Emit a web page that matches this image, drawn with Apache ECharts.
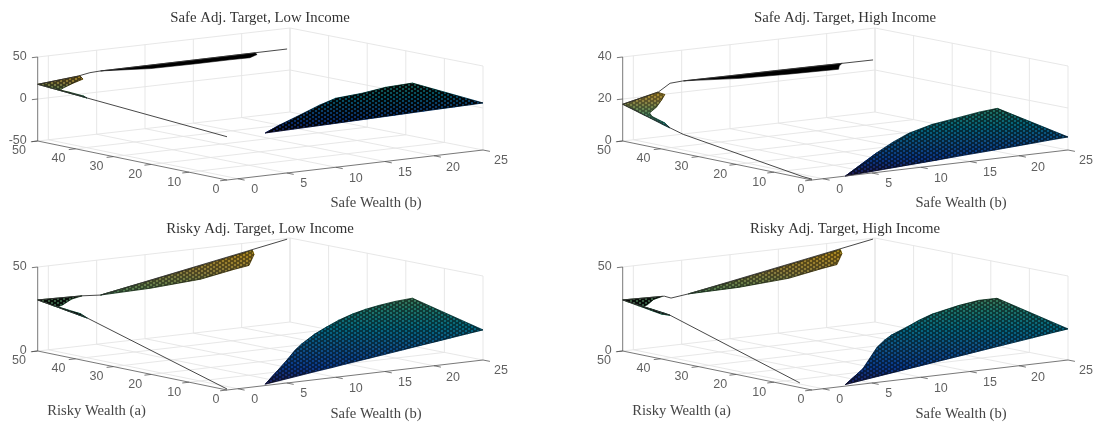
<!DOCTYPE html>
<html><head><meta charset="utf-8">
<style>html,body{margin:0;padding:0;background:#fff}#c{width:1099px;height:424px}</style>
<script src="https://cdn.jsdelivr.net/npm/echarts@6/dist/echarts.min.js"></script>
</head><body><div id="c"></div>
<script>
// ---------- axes ----------
const aTicks=[0,10,20,30,40,50];
const bTicks=[0,5,10,15,20,25];
const bMin=-1.1,bMax=25,aMax=50;
const zTicksA=[-50,0,50], zTicksB=[0,20,40], zTicksC=[0,50];
const titles=['Safe Adj. Target, Low Income','Safe Adj. Target, High Income','Risky Adj. Target, Low Income','Risky Adj. Target, High Income'];
const xName='Safe Wealth (b)', yName='Risky Wealth (a)';

// ---------- panel 1: safe, low income ----------
const p1MainB=[2.8,5.7,9.5,13.2,16,19,22.1,25];
const p1MainATop=[0,3.7,8.1,12.5,15.4,16.2,17.9,18.3];
const p1MainZ0=[.6,1.3,2.2,3.1,3.8,4.6,5.3,6];
const p1MainZTop=[.6,2.7,5.4,8,9.8,10.9,12.3,13.1];
const p1BandB=[5.4,9.5,14,17.5,19.5,21,21.4];
const p1BandALow=[50,47.2,46.8,46.8,46.6,48.5,50];
const p1BandZLow=[24.8,24.8,24.9,25,25,25.1,25.2];
const p1BandZHigh=[24.8,24.9,25,25.1,25.2,25.2,25.2];
const p1TriA=[50,47.8,46.7,45.1,44.3,41.7,38.3,37];
const p1TriBEnd=[3.27,2.72,1.27,-.4,-1,-.9,-.9,-1.1];
const p1TriZ0=[17.5,16.8,16.4,15.9,15.7,14.8,13.8,13.3];
const p1TriZEnd=[21.8,20.7,18.8,16.6,15.8,15,14,13.3];
const p1LowA=[0,50], p1LowZ=[1.5,17.5];
const p1HighB=[-1.1,3.1,4.3,5.4,24.7], p1HighZ=[17.5,21.8,24.2,24.8,25.4];

// ---------- panel 2: safe, high income ----------
const p2MainB=[2.3,8.5,11.6,14.3,17.5,20.7,23,25];
const p2MainATop=[0,7.8,11.4,14.1,16.3,17.3,18,18.3];
const p2MainZ0=[0,1.7,2.5,3.3,4.1,5,5.7,6.2];
const p2MainZTop=[0,4.7,6.9,8.7,10.3,11.6,12.6,13.2];
const p2BandB=[5.2,9.8,14.6,19.4,20.5,21.6];
const p2BandALow=[50,46.9,45.9,45.4,48,50];
const p2BandZLow=[25.3,25.2,25.1,25,25,25];
const p2BandZHigh=[25.3,25.2,25.2,25.1,25,25];
const p2TriA=[50,48.5,47.1,45.5,44.4,43,39.7,37.5];
const p2TriBEnd=[2.52,2.67,1.79,.63,-.52,-.8,-.8,-1.1];
const p2TriZ0=[17.5,16.7,16,15.1,14.5,13.8,12,10.9];
const p2TriZEnd=[21.3,20.7,19.1,16.9,15.1,14.1,12.3,10.9];
const p2LowA=[0,2.4,34,37.5,50], p2LowZ=[.4,.7,9.1,10.9,17.5];
const p2HighB=[-1.1,2.6,3.8,5.1,24.8], p2HighZ=[17.5,21.4,24.9,25.3,24.9];

// ---------- panel 3: risky, low income ----------
const p3MainB=[2.8,5.5,7.9,9.7,11,13.3,15.1,16.9,18.7,20.3,21.7,23.4,25];
const p3MainATop=[0,3.8,7.2,9.9,11.5,14,15.5,16.9,17.9,18.5,18.7,18.7,18.3];
const p3MainZ0=[.8,2.9,4.8,6.1,7.2,8.9,10.3,11.7,13.1,14.3,15.4,16.7,17.9];
const p3MainZTop=[.8,5.1,9,11.8,13.9,17,19.3,21.5,23.5,25,26.2,27.5,28.5];
const p3BandB=[5.4,9.5,13.9,17.3,18.8,20.6,21.1];
const p3BandALow=[50,47.3,45.3,45.3,45.1,48.3,50];
const p3BandZLow=[29,31.6,35,38.5,40,43.8,45.3];
const p3BandZHigh=[29,33.2,37.8,41.3,42.9,44.8,45.3];
const p3TriA=[50,48.7,45.9,44.9,42.6,39.8,36.9];
const p3TriBEnd=[3.5,1.9,-.1,-1,-.85,-.65,-1.1];
const p3TriZ0=[30.4,29.9,28.9,28.6,27.7,26.7,25.7];
const p3TriZEnd=[29.8,29.5,28.8,28.6,27.7,26.6,25.7];
const p3LowA=[0,36.9,50], p3LowZ=[.6,25.7,30.4];
const p3HighB=[-1.1,3.5,5.4,24.7], p3HighZ=[30.4,29.8,29,49.5];

// ---------- panel 4: risky, high income ----------
const p4MainB=[2.3,5.7,9.9,11.4,12.6,14.8,16.6,18.4,21.4,23.5,25];
const p4MainATop=[0,4.2,11.2,13.1,14.4,16,17.4,18.5,19.3,19.3,18.4];
const p4MainZ0=[.9,3.6,6.8,8,8.9,10.6,12,13.4,15.7,17.4,18.5];
const p4MainZTop=[.9,5.9,12.8,15.1,16.7,19.2,21.4,23.4,26.1,27.8,28.4];
const p4BandB=[5.7,9.8,14.2,17.6,19.1,20.9,21.4];
const p4BandALow=[50,47.3,45.3,45.3,45.1,48.3,50];
const p4BandZLow=[29.5,31.9,35.3,38.8,40.3,44.1,45.6];
const p4BandZHigh=[29.5,33.5,38.1,41.6,43.2,45.1,45.6];
const p4TriA=[50,48.7,46,45,42.6,39.8,37.5];
const p4TriBEnd=[3,1.6,-.1,-.9,-.75,-.6,-1.1];
const p4TriZ0=[30.4,29.9,28.9,28.6,27.7,26.7,27.1];
const p4TriZEnd=[29.8,29.5,28.8,28.6,27.7,26.6,27.1];
const p4LowA=[3.2,37.5,50], p4LowZ=[2.7,27.1,30.4];
const p4HighB=[-1.1,3.2,3.9,5.7,24.8], p4HighZ=[30.4,29.8,28.2,29.5,49.5];

// ---------- helpers ----------
const parula=['#352a87','#0f5cdd','#1481d6','#06a4ca','#2eb7a4','#87bf77','#d1bb59','#fec832','#f9fb0e'];
const stops=parula.map((c,i)=>({offset:i/(parula.length-1),color:c}));
const byB=(bs,aA,zA,aB,zB)=>bs.map((b,i)=>[aA[i],b,zA[i],aB[i],b,zB[i]]);
const byA=(as,bEnd,z0,zEnd)=>as.map((a,i)=>[a,bMin,z0[i],a,bEnd[i],zEnd[i]]);
const mainRows=(b,t,z0,zt)=>byB(b,b.map(()=>0),z0,t,zt);
const bandRows=(b,l,zl,zh)=>byB(b,l,zl,b.map(()=>aMax),zh);

const panels=[
 {col:0,row:0,zr:[-50,50],zt:zTicksA,c:[0,25],title:titles[0],
  pieces:[[mainRows(p1MainB,p1MainATop,p1MainZ0,p1MainZTop),.94],[bandRows(p1BandB,p1BandALow,p1BandZLow,p1BandZHigh),1],[byA(p1TriA,p1TriBEnd,p1TriZ0,p1TriZEnd),.68]],
  low:[p1LowA,p1LowZ],high:[p1HighB,p1HighZ],yName:false},
 {col:1,row:0,zr:[0,40],zt:zTicksB,c:[0,25],title:titles[1],
  pieces:[[mainRows(p2MainB,p2MainATop,p2MainZ0,p2MainZTop),.72],[bandRows(p2BandB,p2BandALow,p2BandZLow,p2BandZHigh),1],[byA(p2TriA,p2TriBEnd,p2TriZ0,p2TriZEnd),.55]],
  low:[p2LowA,p2LowZ],high:[p2HighB,p2HighZ],yName:false},
 {col:0,row:1,zr:[0,50],zt:zTicksC,c:[0,50],title:titles[2],
  pieces:[[mainRows(p3MainB,p3MainATop,p3MainZ0,p3MainZTop),.68],[bandRows(p3BandB,p3BandALow,p3BandZLow,p3BandZHigh),.62],[byA(p3TriA,p3TriBEnd,p3TriZ0,p3TriZEnd),.93]],
  low:[p3LowA,p3LowZ],high:[p3HighB,p3HighZ],yName:true},
 {col:1,row:1,zr:[0,50],zt:zTicksC,c:[0,50],title:titles[3],
  pieces:[[mainRows(p4MainB,p4MainATop,p4MainZ0,p4MainZTop),.68],[bandRows(p4BandB,p4BandALow,p4BandZLow,p4BandZHigh),.62],[byA(p4TriA,p4TriBEnd,p4TriZ0,p4TriZEnd),.93]],
  low:[p4LowA,p4LowZ],high:[p4HighB,p4HighZ],yName:true}
];

// view of the MATLAB box: floor corners and wall height, in each panel's axis units
const F=[227,180],R=[483,150],L=[37.7,141],B=[290,112],H=84;
function project(p,a,b,z){
  const u=(b-bMin)/(bMax-bMin),v=a/aMax;
  const w=(i)=>F[i]*(1-u)*(1-v)+R[i]*u*(1-v)+L[i]*(1-u)*v+B[i]*u*v;
  return [w(0),w(1)-(z-p.zr[0])/(p.zr[1]-p.zr[0])*H];
}
function lerpColor(t){
  t=Math.max(0,Math.min(1,t))*(parula.length-1);
  const i=Math.min(parula.length-2,Math.floor(t)),f=t-i;
  const h=(s)=>[1,3,5].map(k=>parseInt(s.substr(k,2),16));
  const A=h(parula[i]),C=h(parula[i+1]);
  return 'rgb('+A.map((v,k)=>Math.round(v+(C[k]-v)*f)).join(',')+')';
}
function triFill(P,Z,c){
  const [p1,p2,p3]=P;
  const det=(p2[0]-p1[0])*(p3[1]-p1[1])-(p3[0]-p1[0])*(p2[1]-p1[1]);
  const mean=(Z[0]+Z[1]+Z[2])/3;
  const solid=lerpColor((mean-c[0])/(c[1]-c[0]));
  if(Math.abs(det)<0.5) return solid;
  const gx=((Z[1]-Z[0])*(p3[1]-p1[1])-(Z[2]-Z[0])*(p2[1]-p1[1]))/det;
  const gy=((Z[2]-Z[0])*(p2[0]-p1[0])-(Z[1]-Z[0])*(p3[0]-p1[0]))/det;
  const g2=gx*gx+gy*gy;
  if(g2<1e-7) return solid;
  const at=(v)=>[p1[0]+gx*(v-Z[0])/g2,p1[1]+gy*(v-Z[0])/g2];
  const s=at(c[0]),e=at(c[1]);
  return new echarts.graphic.LinearGradient(s[0],s[1],e[0],e[1],stops,true);
}
// dark surface-mesh texture with small brighter holes between the edges
const tiles={};
function meshTile(alpha){
  if(tiles[alpha]) return tiles[alpha];
  const t=document.createElement('canvas');t.width=6;t.height=4;
  const x=t.getContext('2d');
  x.fillStyle='rgba(0,0,0,'+alpha+')';x.fillRect(0,0,6,4);
  const hole=alpha*0.55;
  [[0,0],[3,2]].forEach(h=>{
    x.clearRect(h[0],h[1],2,2);
    x.fillStyle='rgba(0,0,0,'+hole+')';x.fillRect(h[0],h[1],2,2);
  });
  return tiles[alpha]=t;
}

// ---------- options ----------
const grids=[],xAxes=[],yAxes=[],series=[],titleItems=[];
const GREY='#e4e4e4',DARK='#555555',TXT='#383838';
const SANS='"Liberation Sans",Arial,sans-serif',SERIF='"Liberation Serif",serif';

function segmentSeries(idx,segs,color,width,p){
  series.push({type:'custom',xAxisIndex:idx,yAxisIndex:idx,silent:true,clip:false,animation:false,
    data:segs,
    renderItem(params,api){
      const s=api.coord(project(p,api.value(0),api.value(1),api.value(2)));
      const e=api.coord(project(p,api.value(3),api.value(4),api.value(5)));
      return {type:'line',shape:{x1:s[0],y1:s[1],x2:e[0],y2:e[1]},style:{stroke:color,lineWidth:width,fill:null}};
    },encode:{x:0,y:1}});
}
panels.forEach((p,idx)=>{
  const ox=585*p.col,oy=210*p.row;
  grids.push({left:ox,top:oy,width:514,height:214});
  xAxes.push({type:'value',gridIndex:idx,min:0,max:514,show:false});
  yAxes.push({type:'value',gridIndex:idx,min:0,max:214,inverse:true,show:false});
  const z0=p.zr[0],z1=p.zr[1];
  // grid lines
  const g=[];
  aTicks.forEach(a=>{ if(a>0) g.push([a,bMin,z0,a,bMax,z0]); g.push([a,bMax,z0,a,bMax,z1]); });
  bTicks.forEach(b=>{ g.push([0,b,z0,aMax,b,z0]); g.push([aMax,b,z0,aMax,b,z1]); });
  p.zt.forEach(z=>{ if(z>z0){ g.push([aMax,bMin,z,aMax,bMax,z]); g.push([aMax,bMax,z,0,bMax,z]); } });
  segmentSeries(idx,g,GREY,0.9,p);
  // surfaces
  p.pieces.forEach(piece=>{
    const rows=piece[0],alpha=piece[1];
    series.push({type:'custom',xAxisIndex:idx,yAxisIndex:idx,silent:true,clip:false,animation:false,data:rows,encode:{x:0,y:1},
      renderItem(params,api){
        const i=params.dataIndexInside;
        if(i===0||alpha>=1) return null;
        const v=(d,k)=>api.value(d,k);
        const pt=(k,o)=>api.coord(project(p,v(o,k),v(o+1,k),v(o+2,k)));
        const q=[pt(i-1,0),pt(i-1,3),pt(i,3),pt(i,0)];
        const z=[v(2,i-1),v(5,i-1),v(5,i),v(2,i)];
        const tri=(a,b,c)=>{
          const fill=triFill([q[a],q[b],q[c]],[z[a],z[b],z[c]],p.c);
          return {type:'polygon',shape:{points:[q[a],q[b],q[c]]},style:{fill:fill,stroke:fill,lineWidth:0.6}};
        };
        return {type:'group',children:[tri(0,1,2),tri(0,2,3)]};
      }});
    series.push({type:'custom',xAxisIndex:idx,yAxisIndex:idx,silent:true,clip:false,animation:false,data:rows,encode:{x:0,y:1},
      renderItem(params,api){
        if(params.dataIndexInside!==0) return null;
        const n=params.dataInsideLength,pts=[];
        for(let k=0;k<n;k++) pts.push(api.coord(project(p,api.value(0,k),api.value(1,k),api.value(2,k))));
        for(let k=n-1;k>=0;k--) pts.push(api.coord(project(p,api.value(3,k),api.value(4,k),api.value(5,k))));
        return {type:'polygon',shape:{points:pts},style:{fill:alpha>=1?'#000':{image:meshTile(alpha),repeat:'repeat'},stroke:'rgba(0,0,0,.8)',lineWidth:0.7}};
      }});
  });
  // edge lines of the surface
  const lineStyle={color:'#333333',width:0.9};
  series.push({type:'line',xAxisIndex:idx,yAxisIndex:idx,silent:true,animation:false,showSymbol:false,symbol:'none',lineStyle,
    data:p.low[0].map((a,i)=>project(p,a,bMin,p.low[1][i]))});
  series.push({type:'line',xAxisIndex:idx,yAxisIndex:idx,silent:true,animation:false,showSymbol:false,symbol:'none',lineStyle,
    data:p.high[0].map((b,i)=>project(p,aMax,b,p.high[1][i]))});
  // box axes and ticks
  const ax=[[aMax,bMin,z0,aMax,bMin,z1],[aMax,bMin,z0,0,bMin,z0],[0,bMin,z0,0,bMax,z0]];
  p.zt.forEach(z=>ax.push([aMax,bMin,z,aMax,bMin-0.6,z]));
  aTicks.forEach(a=>ax.push([a,bMin,z0,a,bMin-0.7,z0]));
  bTicks.forEach(b=>ax.push([0,b,z0,-1.8,b,z0]));
  segmentSeries(idx,ax,DARK,0.8,p);
  // tick labels
  const labs=[];
  const aOff={0:[-11,10],10:[-15,10],20:[-16,10],30:[-17,10.4],40:[-17,10],50:[-18.7,10]};
  const bOff={0:[17,11],5:[17,11],10:[20,11],15:[20,11.5],20:[19,11.7],25:[18,11]};
  aTicks.forEach(a=>labs.push({value:[...project(p,a,bMin,z0),String(a)],label:{offset:aOff[a]}}));
  bTicks.forEach(b=>labs.push({value:[...project(p,0,b,z0),String(b)],label:{offset:bOff[b]}}));
  p.zt.forEach(z=>labs.push({value:[...project(p,aMax,bMin,z),String(z)],label:{offset:[-11,0],align:'right'}}));
  series.push({type:'scatter',xAxisIndex:idx,yAxisIndex:idx,silent:true,animation:false,symbolSize:1,itemStyle:{color:'rgba(0,0,0,0)'},
    label:{show:true,position:'inside',align:'center',verticalAlign:'middle',color:TXT,fontFamily:SANS,fontSize:12.5,formatter:(q)=>q.value[2]},
    data:labs});
  // titles
  titleItems.push({text:p.title,left:ox+260,top:oy+(p.row?19:18),padding:0,textAlign:'center',textVerticalAlign:'middle',
    textStyle:{fontFamily:SERIF,fontSize:14.8,fontWeight:'normal',color:'#333'}});
  titleItems.push({text:xName,left:ox+376,top:oy+(p.row?204:203),padding:0,textAlign:'center',textVerticalAlign:'middle',
    textStyle:{fontFamily:SERIF,fontSize:14.6,fontWeight:'normal',color:'#444'}});
  if(p.yName) titleItems.push({text:yName,left:ox+96.5,top:oy+201,padding:0,textAlign:'center',textVerticalAlign:'middle',
    textStyle:{fontFamily:SERIF,fontSize:14.6,fontWeight:'normal',color:'#444'}});
});
const chart=echarts.init(document.getElementById('c'),null,{renderer:'canvas'});
chart.setOption({animation:false,backgroundColor:'#fff',title:titleItems,grid:grids,xAxis:xAxes,yAxis:yAxes,series});
</script></body></html>
